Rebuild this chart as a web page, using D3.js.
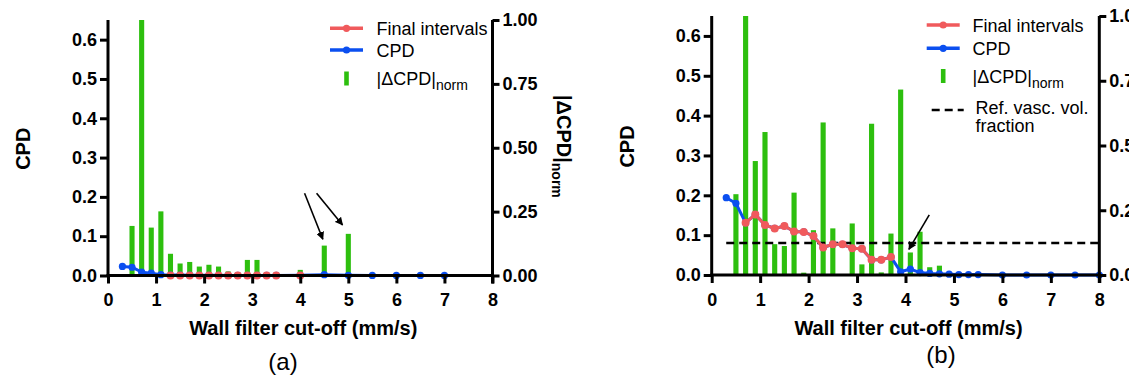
<!DOCTYPE html>
<html><head><meta charset="utf-8">
<script src="https://cdn.jsdelivr.net/npm/d3@7"></script>
<style>
body{margin:0;background:#fff;}
svg{display:block;font-family:Arial,"Liberation Sans",sans-serif;}
</style></head>
<body><svg id="c" width="1129" height="377"></svg>
<script>
// ---------- DATA ----------
const xTicks = [0,1,2,3,4,5,6,7,8];
const cpdTicks = [0,0.1,0.2,0.3,0.4,0.5,0.6];
const normTicks = [0,0.25,0.5,0.75,1];

// Panel (a)
const aX = [0.3,0.5,0.7,0.9,1.1,1.3,1.5,1.7,1.9,2.1,2.3,2.5,2.7,2.9,3.1,3.3,3.5,4.0,4.5,5.0,5.5,6.0,6.5,7.0];
const aCPD = [0.023,0.021,0.0085,0.006,0.002,0.001,0.001,0.0008,0.0006,0.0005,0.0004,0.0003,0.0003,0.0002,0.0002,0.0001,0.0001,0.0005,0.002,0.0005,0.0003,0.0002,0.0001,0.0001];
const aFinalX = [1.3,1.5,1.7,1.9,2.1,2.3,2.5,2.7,2.9,3.1,3.3,3.5,4.0];
const aFinal = [0,0,0,0,0,0,0,0,0,0,0,0,0];
const aBarX = [0.5,0.7,0.9,1.1,1.3,1.5,1.7,1.9,2.1,2.3,2.5,2.7,2.9,3.1,3.3,3.5,4.0,4.5,5.0,5.5,6.0,6.5,7.0];
const aBar = [0.194,1.0,0.1875,0.251,0.085,0.047,0.053,0.035,0.042,0.035,0.016,0,0.061,0.061,0,0,0.022,0.117,0.163,0,0,0,0];
// arrows: [x1, norm1, x2, norm2]
const aArrows = [[4.09,0.322,4.47,0.142],[4.34,0.322,4.88,0.198]];

// Panel (b)
const bX = [0.3,0.5,0.7,0.9,1.1,1.3,1.5,1.7,1.9,2.1,2.3,2.5,2.7,2.9,3.1,3.3,3.5,3.7,3.9,4.1,4.3,4.5,4.7,4.9,5.1,5.3,5.5,6.0,6.5,7.0,7.5,8.0];
const bCPD = [0.194,0.18,0.131,0.152,0.1255,0.117,0.123,0.109,0.108,0.098,0.069,0.077,0.077,0.067,0.066,0.038,0.038,0.045,0.008,0.015,0.006,0.004,0.003,0.002,0.001,0.001,0.001,0,0,0,0,0];
const bFinalX = [0.7,0.9,1.1,1.3,1.5,1.7,1.9,2.1,2.3,2.5,2.7,2.9,3.1,3.3,3.5,3.7];
const bFinal = [0.131,0.152,0.1255,0.117,0.123,0.109,0.108,0.098,0.069,0.077,0.077,0.067,0.066,0.038,0.038,0.045];
const bBarX = [0.5,0.7,0.9,1.1,1.3,1.5,1.7,1.9,2.1,2.3,2.5,2.7,2.9,3.1,3.3,3.5,3.7,3.9,4.1,4.3,4.5,4.7,4.9,5.1,5.3,5.5];
const bBar = [0.312,1.0,0.44,0.552,0.119,0.112,0.318,0.009,0.173,0.589,0.18,0,0.199,0.041,0.584,0.01,0.16,0.716,0.087,0.167,0.03,0.036,0,0,0,0];
const bRef = 0.08;
const bRefX = [0.3,8.0];
// arrows: [x1, cpd1, x2, cpd2]
const bArrows = [[4.49,0.151,4.07,0.0645]];

// legend labels
const legendLabels = ["Final intervals","CPD","|ΔCPD|","norm","Ref. vasc. vol.","fraction"];

// ---------- STYLE ----------
const RED="#f05a5c", BLUE="#0b4ff0", GREEN="#2dbf0e";
const svg = d3.select("#c");
const defs = svg.append("defs");
defs.append("marker").attr("id","ah").attr("viewBox","0 0 10 10").attr("refX",9).attr("refY",5)
  .attr("markerWidth",8).attr("markerHeight",8).attr("markerUnits","userSpaceOnUse").attr("orient","auto")
  .append("path").attr("d","M0,0 L10,5 L0,10 z").attr("fill","#000");

function panel(cfg){
  const g = svg.append("g");
  const x = d3.scaleLinear().domain([0,8]).range(cfg.xr);
  const y = d3.scaleLinear().domain([0,0.65]).range(cfg.yr);
  const yn = d3.scaleLinear().domain([0,1]).range(cfg.yr);
  const bw = (x(0.2)-x(0))*0.53;

  // bars
  g.selectAll("rect.bar").data(cfg.barX.map((v,i)=>[v,cfg.bar[i]])).join("rect")
    .attr("x",d=>x(d[0])-bw/2).attr("width",bw)
    .attr("y",d=>yn(d[1])).attr("height",d=>yn(0)-yn(d[1])).attr("fill",GREEN);

  // ref line
  if(cfg.ref!==undefined){
    g.append("line").attr("x1",x(cfg.refX[0])).attr("x2",x(cfg.refX[1]))
      .attr("y1",y(cfg.ref)).attr("y2",y(cfg.ref))
      .attr("stroke","#000").attr("stroke-width",2.5).attr("stroke-dasharray","8,5");
  }

  const line = d3.line().x(d=>x(d[0])).y(d=>y(d[1]));
  const cpd = cfg.X.map((v,i)=>[v,cfg.cpd[i]]);
  const fin = cfg.finX.map((v,i)=>[v,cfg.fin[i]]);
  g.append("path").datum(cpd).attr("d",line).attr("fill","none").attr("stroke",BLUE).attr("stroke-width",3);
  g.selectAll("circle.b").data(cpd).join("circle").attr("cx",d=>x(d[0])).attr("cy",d=>y(d[1])).attr("r",3.6).attr("fill",BLUE);
  g.append("path").datum(fin).attr("d",line).attr("fill","none").attr("stroke",RED).attr("stroke-width",3);
  g.selectAll("circle.r").data(fin).join("circle").attr("cx",d=>x(d[0])).attr("cy",d=>y(d[1])).attr("r",4).attr("fill",RED);

  // arrows
  const ay = cfg.arrowNorm ? yn : y;
  cfg.arrows.forEach(a=>{
    g.append("line").attr("x1",x(a[0])).attr("y1",ay(a[1])).attr("x2",x(a[2])).attr("y2",ay(a[3]))
      .attr("stroke","#000").attr("stroke-width",1.6).attr("marker-end","url(#ah)");
  });

  // axes
  const styleAx = (ax,size)=>{
    ax.selectAll("path.domain").attr("stroke","#000").attr("stroke-width",3);
    ax.selectAll(".tick line").attr("stroke","#000").attr("stroke-width",3);
    ax.selectAll(".tick text").attr("fill","#000").attr("font-weight","bold").attr("font-size",size)
      .attr("font-family","Arial, 'Liberation Sans', sans-serif");
  };
  const gx = g.append("g").attr("transform",`translate(0,${cfg.yr[0]})`)
    .call(d3.axisBottom(x).tickValues(xTicks).tickFormat(d3.format("d")).tickSize(8).tickSizeOuter(0).tickPadding(10));
  styleAx(gx,18);
  const gy = g.append("g").attr("transform",`translate(${cfg.xr[0]},0)`)
    .call(d3.axisLeft(y).tickValues(cpdTicks).tickFormat(d3.format(".1f")).tickSize(8).tickSizeOuter(0).tickPadding(3));
  styleAx(gy,18);
  gy.select("path.domain").attr("d",`M0,${cfg.yr[0]+1.5}V${cfg.yr[1]}`);
  const gr = g.append("g").attr("transform",`translate(${cfg.xr[1]},0)`)
    .call(d3.axisRight(yn).tickValues(normTicks).tickFormat(d3.format(".2f")).tickSize(7).tickSizeOuter(0).tickPadding(3));
  styleAx(gr,18);
  gr.select("path.domain").attr("d",`M0,${cfg.yr[0]+8}V${cfg.yr[1]}`);
  gx.select("path.domain").attr("d",`M${cfg.xr[0]-1.5},0H${cfg.xr[1]+1.5}`);

  // titles
  const mid = (cfg.yr[0]+cfg.yr[1])/2;
  g.append("text").attr("transform",`translate(${cfg.xr[0]-78},${mid+1}) rotate(-90)`)
    .attr("text-anchor","middle").attr("font-weight","bold").attr("font-size",20).text("CPD");
  const rt = g.append("text").attr("transform",`translate(${cfg.xr[1]+64},${cfg.yr[1]+75}) rotate(90)`)
    .attr("font-weight","bold").attr("font-size",20);
  rt.append("tspan").text("|ΔCPD|");
  rt.append("tspan").attr("dy",5).attr("font-size",14).text("norm");
  g.append("text").attr("x",(cfg.xr[0]+cfg.xr[1])/2+3).attr("y",335).attr("text-anchor","middle")
    .attr("font-weight","bold").attr("font-size",20).text("Wall filter cut-off (mm/s)");
  g.append("text").attr("x",cfg.cap[0]).attr("y",cfg.cap[1]).attr("text-anchor","middle")
    .attr("font-size",24).text(cfg.capText);

  // legend
  const L = cfg.leg;
  const lg = g.append("g").attr("font-size",18);
  const lx1=L.x, lx2=L.x+33, lmid=L.x+16.5, tx=L.tx;
  lg.append("line").attr("x1",lx1).attr("x2",lx2).attr("y1",L.y[0]).attr("y2",L.y[0]).attr("stroke",RED).attr("stroke-width",3.5);
  lg.append("circle").attr("cx",lmid).attr("cy",L.y[0]).attr("r",3.6).attr("fill",RED);
  lg.append("text").attr("x",tx).attr("y",L.y[0]+7).text(legendLabels[0]);
  lg.append("line").attr("x1",lx1).attr("x2",lx2).attr("y1",L.y[1]).attr("y2",L.y[1]).attr("stroke",BLUE).attr("stroke-width",3.5);
  lg.append("circle").attr("cx",lmid).attr("cy",L.y[1]).attr("r",3.6).attr("fill",BLUE);
  lg.append("text").attr("x",tx).attr("y",L.y[1]+7).text(legendLabels[1]);
  lg.append("rect").attr("x",lmid-2.3).attr("width",4.6).attr("y",L.y[2]-7.5).attr("height",14).attr("fill",GREEN);
  const t3 = lg.append("text").attr("x",tx).attr("y",L.y[2]+6);
  t3.append("tspan").text(legendLabels[2]);
  t3.append("tspan").attr("dy",5).attr("font-size",14).text(legendLabels[3]);
  if(L.y[3]!==undefined){
    lg.append("line").attr("x1",lx1+5).attr("x2",lx2+4).attr("y1",L.y[3]).attr("y2",L.y[3])
      .attr("stroke","#000").attr("stroke-width",2.5).attr("stroke-dasharray","8,5");
    lg.append("text").attr("x",tx+3).attr("y",L.y[3]+4).text(legendLabels[4]);
    lg.append("text").attr("x",tx+3).attr("y",L.y[3]+22).text(legendLabels[5]);
  }
}

panel({xr:[108,492.5], yr:[275.5,20], X:aX, cpd:aCPD, finX:aFinalX, fin:aFinal, barX:aBarX, bar:aBar,
  arrows:aArrows, arrowNorm:true, cap:[283,370], capText:"(a)",
  leg:{x:330, tx:376.5, y:[28.3,50,79]}});
panel({xr:[711.7,1099.3], yr:[275,16], X:bX, cpd:bCPD, finX:bFinalX, fin:bFinal, barX:bBarX, bar:bBar,
  ref:bRef, refX:bRefX, arrows:bArrows, arrowNorm:false, cap:[941,363], capText:"(b)",
  leg:{x:926.7, tx:972.5, y:[25,48.3,76.5,110]}});
</script></body></html>
